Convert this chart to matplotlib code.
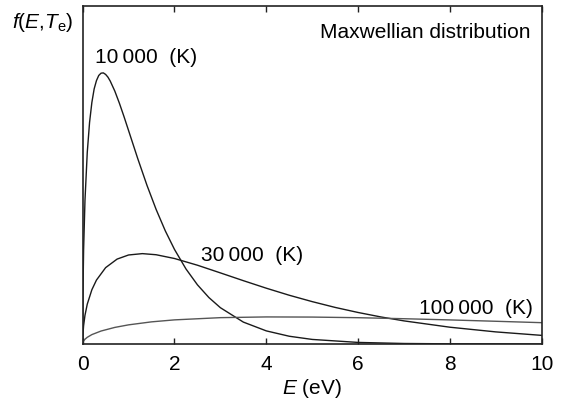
import matplotlib
matplotlib.use("Agg")
import matplotlib.pyplot as plt

plt.rcParams['font.family'] = ['Liberation Sans', 'DejaVu Sans']
plt.rcParams['mathtext.fontset'] = 'custom'
plt.rcParams['mathtext.rm'] = 'Liberation Sans'
plt.rcParams['mathtext.it'] = 'Liberation Sans:italic'

# energy (eV) and f(E) values
e_10k = [0, 0.005, 0.02, 0.05, 0.1, 0.15, 0.2, 0.25, 0.3, 0.35, 0.4, 0.45, 0.5, 0.55, 0.6, 0.7,
         0.8, 0.9, 1.0, 1.2, 1.4, 1.6, 1.8, 2.0, 2.25, 2.5, 2.75, 3.0, 3.5, 4.0, 4.5, 5, 6, 7, 8, 10]
f_10k = [0, 0.0992, 0.1949, 0.2976, 0.3972, 0.4590, 0.5002, 0.5284, 0.5455, 0.5562, 0.5609,
         0.5615, 0.5583, 0.5527, 0.5446, 0.5238, 0.4986, 0.4710, 0.4420, 0.3839, 0.3288,
         0.2787, 0.2343, 0.1959, 0.1555, 0.1226, 0.0962, 0.0752, 0.0454, 0.0272, 0.0161,
         0.0095, 0.0033, 0.0011, 0.0004, 0.0]

e_30k = [0, 0.005, 0.02, 0.05, 0.1, 0.2, 0.3, 0.5, 0.75, 1.0, 1.3, 1.6, 2.0, 2.5, 3, 3.5, 4,
         4.5, 5, 5.5, 6, 6.5, 7, 8, 9, 10]
f_30k = [0, 0.0191, 0.0381, 0.0595, 0.0826, 0.1124, 0.1324, 0.1582, 0.1759, 0.1844, 0.1872,
         0.1849, 0.1771, 0.1632, 0.1473, 0.1312, 0.1156, 0.1010, 0.0878, 0.0758, 0.0653,
         0.0560, 0.0479, 0.0348, 0.0251, 0.0179]

e_100k = [0, 0.005, 0.02, 0.05, 0.1, 0.2, 0.4, 0.7, 1, 1.5, 2, 3, 4, 5, 6, 7, 8, 9, 10]
f_100k = [0, 0.0032, 0.0063, 0.0099, 0.0139, 0.0195, 0.0269, 0.0344, 0.0397, 0.0459, 0.0500,
          0.0546, 0.0561, 0.0558, 0.0545, 0.0524, 0.0499, 0.0471, 0.0442]

xticks = [0, 2, 4, 6, 8, 10]

fig = plt.figure(figsize=(5.64, 4.01), dpi=100)
ax = fig.add_axes([0.1466, 0.1421, 0.8139, 0.8429])

ax.plot(e_10k, f_10k, color="#1a1a1a", lw=1.0)
ax.plot(e_30k, f_30k, color="#1a1a1a", lw=1.0)
ax.plot(e_100k, f_100k, color="#555555", lw=1.0)

ax.set_xlim(0, 10)
ax.set_ylim(0, 0.7)
ax.set_xticks(xticks)
ax.set_yticks([])
ax.tick_params(axis="x", direction="in", length=4, width=1, top=True,
               labelsize=15, pad=8, color="#222222")
for s in ax.spines.values():
    s.set_linewidth(1.2)
    s.set_color("#222222")

ax.text(0.27, 0.593, "10\u2009000  (K)", fontsize=15, va="center", ha="left")
ax.text(2.58, 0.184, "30\u2009000  (K)", fontsize=15, va="center", ha="left")
ax.text(9.8, 0.074, "100\u2009000  (K)", fontsize=15, va="center", ha="right")
ax.text(9.745, 0.645, "Maxwellian distribution", fontsize=15, va="center", ha="right")

ax.set_xlabel(r"$E$ (eV)", fontsize=15, labelpad=2)
fig.text(0.021, 0.943, r"$f(E{,}T_{\rm e})$", fontsize=15, va="center", ha="left")

fig.savefig("out.png", dpi=100)
